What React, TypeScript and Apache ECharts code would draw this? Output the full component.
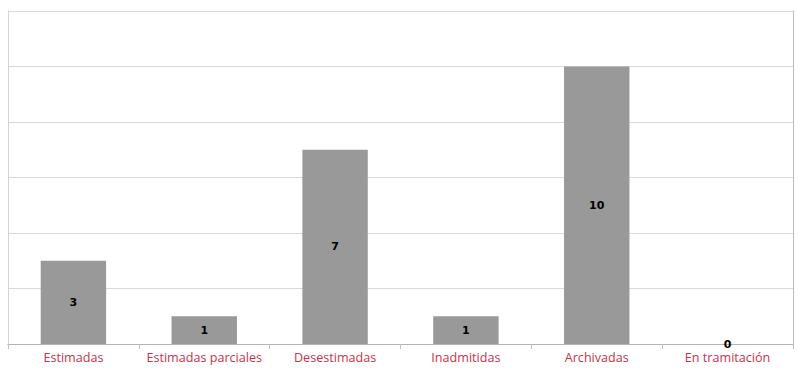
import React, { useEffect, useRef } from "react";
import * as echarts from "echarts";

const categories = [
  "Estimadas",
  "Estimadas parciales",
  "Desestimadas",
  "Inadmitidas",
  "Archivadas",
  "En tramitación",
];
const values = [3, 1, 7, 1, 10, 0];
const yMin = 0;
const yMax = 12;
const yInterval = 2;

export default function App() {
  const ref = useRef<HTMLDivElement>(null);
  useEffect(() => {
    if (!ref.current) return;
    const chart = echarts.init(ref.current, null, { renderer: "svg" });
    chart.setOption({
      animation: false,
      backgroundColor: "#ffffff",
      grid: { left: 8, right: 5, top: 11, bottom: 24, containLabel: false },
      xAxis: [
        {
          type: "category",
          data: categories,
          axisLine: { show: true, lineStyle: { color: "#bfbfbf", width: 1 } },
          axisTick: { show: true, alignWithLabel: false, length: 5, lineStyle: { color: "#bfbfbf" } },
          axisLabel: {
            color: "#c8334a",
            fontFamily: "Open Sans",
            fontSize: 12.6,
            margin: 7,
            interval: 0,
          },
          splitLine: { show: false },
        },
        {
          type: "category",
          position: "top",
          data: categories,
          axisLine: { show: true, lineStyle: { color: "#b3b3b3", width: 1 } },
          axisTick: { show: false },
          axisLabel: { show: false },
          splitLine: { show: false },
        },
      ],
      yAxis: [
        {
          type: "value",
          min: yMin,
          max: yMax,
          interval: yInterval,
          axisLine: { show: true, lineStyle: { color: "#d4d4d4" } },
          axisTick: { show: false },
          axisLabel: { show: false },
          splitLine: { show: true, lineStyle: { color: "#d9d9d9", width: 1 } },
        },
        {
          type: "value",
          position: "right",
          min: yMin,
          max: yMax,
          interval: yInterval,
          axisLine: { show: true, lineStyle: { color: "#bdbdbd" } },
          axisTick: { show: false },
          axisLabel: { show: false },
          splitLine: { show: false },
        },
      ],
      series: [
        {
          type: "bar",
          data: values,
          barWidth: "50%",
          itemStyle: { color: "#999999", borderWidth: 0 },
          label: {
            show: true,
            position: "inside",
            color: "#000000",
            fontFamily: "DejaVu Sans",
            fontWeight: "bold",
            fontSize: 11,
          },
        },
      ],
    });
    return () => chart.dispose();
  }, []);
  return <div ref={ref} style={{ width: 798, height: 368, position: "absolute", left: 0, top: 0 }} />;
}
